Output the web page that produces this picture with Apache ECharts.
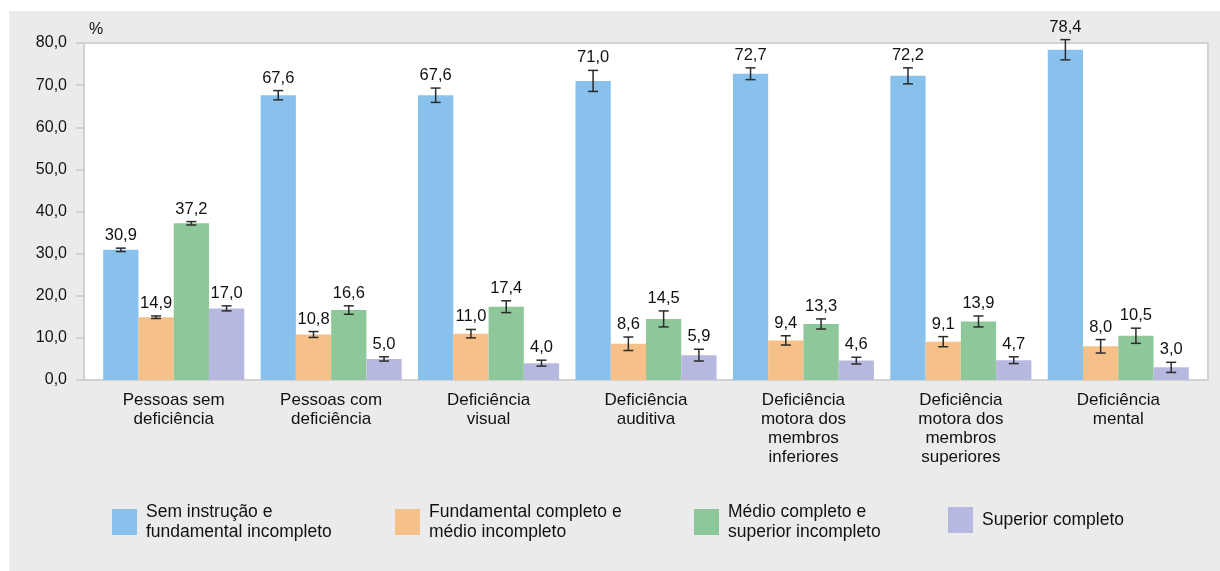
<!DOCTYPE html>
<html>
<head>
<meta charset="utf-8">
<script src="https://cdn.jsdelivr.net/npm/echarts@6/dist/echarts.min.js"></script>
<style>
    html, body { margin: 0; padding: 0; background: #ffffff; }
    #panel {
        position: absolute;
        left: 9px;
        top: 11px;
        width: 1211px;
        height: 560px;
        background: #ebebeb;
    }
</style>
</head>
<body>
<div id="panel"></div>
<script>
// categorias e valores (%)
const categories = [
    "Pessoas sem\ndeficiência",
    "Pessoas com\ndeficiência",
    "Deficiência\nvisual",
    "Deficiência\nauditiva",
    "Deficiência\nmotora dos\nmembros\ninferiores",
    "Deficiência\nmotora dos\nmembros\nsuperiores",
    "Deficiência\nmental"
];
const seriesNames = [
    "Sem instrução e\nfundamental incompleto",
    "Fundamental completo e\nmédio incompleto",
    "Médio completo e\nsuperior incompleto",
    "Superior completo"
];
const semInstrucao = [30.9, 67.6, 67.6, 71.0, 72.7, 72.2, 78.4];
const fundamental = [14.9, 10.8, 11.0, 8.6, 9.4, 9.1, 8.0];
const medio = [37.2, 16.6, 17.4, 14.5, 13.3, 13.9, 10.5];
const superior = [17.0, 5.0, 4.0, 5.9, 4.6, 4.7, 3.0];

// margens de erro (intervalo de confiança)
const semInstrucaoErr = [0.4, 1.1, 1.7, 2.5, 1.4, 1.9, 2.4];
const fundamentalErr = [0.3, 0.7, 1.0, 1.6, 1.1, 1.2, 1.6];
const medioErr = [0.4, 1.0, 1.4, 1.9, 1.2, 1.3, 1.8];
const superiorErr = [0.6, 0.5, 0.7, 1.4, 0.8, 0.8, 1.2];

const yTicks = [0, 10, 20, 30, 40, 50, 60, 70, 80];

const colors = ["#88c1ec", "#f6c089", "#8ec799", "#b7b8df"];
const values = [semInstrucao, fundamental, medio, superior];
const errors = [semInstrucaoErr, fundamentalErr, medioErr, superiorErr];

const gapPct = 10.4;
const font = "Liberation Sans, Arial, sans-serif";
const textColor = "#111111";
const fmt = v => v.toFixed(1).replace(".", ",");

let chart = echarts.init(document.getElementById("panel"));

let barSeries = values.map((vals, s) => ({
    name: seriesNames[s],
    type: "bar",
    xAxisIndex: 1,
    yAxisIndex: 1,
    barGap: "0%",
    barCategoryGap: gapPct + "%",
    itemStyle: { color: colors[s] },
    emphasis: { disabled: true },
    data: vals,
    z: 2
}));

let errorSeries = values.map((vals, s) => ({
    type: "custom",
    xAxisIndex: 1,
    yAxisIndex: 1,
    silent: true,
    z: 5,
    data: vals.map((v, i) => [i, v, errors[s][i]]),
    renderItem: function (params, api) {
        const ci = api.value(0);
        const v = api.value(1);
        const e = api.value(2);
        const band = api.size([1, 0])[0];
        const barW = band * (1 - gapPct / 100) / 4;
        const c = api.coord([ci, v]);
        const x = c[0] + (s - 1.5) * barW;
        const yTop = api.coord([ci, v + e])[1];
        const yBot = api.coord([ci, v - e])[1];
        const cap = 5;
        const st = { stroke: "#2b2b2b", lineWidth: 1.5 };
        return {
            type: "group",
            children: [
                { type: "line", shape: { x1: x, y1: yTop, x2: x, y2: yBot }, style: st },
                { type: "line", shape: { x1: x - cap, y1: yTop, x2: x + cap, y2: yTop }, style: st },
                { type: "line", shape: { x1: x - cap, y1: yBot, x2: x + cap, y2: yBot }, style: st },
                {
                    type: "text",
                    style: {
                        text: fmt(v),
                        x: x,
                        y: yTop - 4,
                        align: "center",
                        verticalAlign: "bottom",
                        fill: textColor,
                        font: "16.5px " + font
                    }
                }
            ]
        };
    }
}));

// uma legenda por item, para posicionar como no original
const legendLeft = [98, 381, 680, 934];
const legendTop = [481, 481, 481, 489];
let legends = seriesNames.map((n, i) => ({
    data: [n],
    left: legendLeft[i],
    top: legendTop[i],
    icon: "rect",
    itemWidth: 25,
    itemHeight: 26,
    selectedMode: false,
    textStyle: {
        fontFamily: font,
        fontSize: 17.5,
        lineHeight: 20,
        color: textColor,
        padding: [10, 0, 0, 4]
    }
}));

const option = {
    animation: false,
    textStyle: { fontFamily: font },
    title: {
        text: "%",
        left: 75,
        top: 6,
        textStyle: { fontFamily: font, fontSize: 16, fontWeight: "normal", color: textColor }
    },
    legend: legends,
    grid: [
        {
            // fundo branco da área de plotagem
            left: 75, right: 12, top: 32, bottom: 191,
            show: true,
            backgroundColor: "#ffffff",
            borderColor: "#d2d2d2",
            borderWidth: 2
        },
        {
            left: 86, right: 23, top: 32, bottom: 191
        }
    ],
    xAxis: [
        { type: "value", gridIndex: 0, show: false, min: 0, max: 1 },
        {
            type: "category",
            gridIndex: 1,
            data: categories,
            axisLine: { show: false },
            axisTick: { show: false },
            axisLabel: {
                margin: 11,
                interval: 0,
                fontSize: 17,
                lineHeight: 19,
                color: textColor,
                fontFamily: font
            }
        }
    ],
    yAxis: [
        {
            type: "value",
            gridIndex: 0,
            min: yTicks[0],
            max: yTicks[yTicks.length - 1],
            interval: 10,
            axisLine: { show: true, lineStyle: { color: "#d2d2d2", width: 2 } },
            axisTick: { show: true, length: 8, lineStyle: { color: "#c8c8c8", width: 1.5 } },
            splitLine: { show: false },
            axisLabel: {
                margin: 17,
                fontSize: 16,
                color: textColor,
                fontFamily: font,
                formatter: v => fmt(v)
            }
        },
        {
            type: "value",
            gridIndex: 1,
            min: yTicks[0],
            max: yTicks[yTicks.length - 1],
            show: false,
            splitLine: { show: false }
        }
    ],
    series: barSeries.concat(errorSeries)
};

chart.setOption(option);
</script>
</body>
</html>
